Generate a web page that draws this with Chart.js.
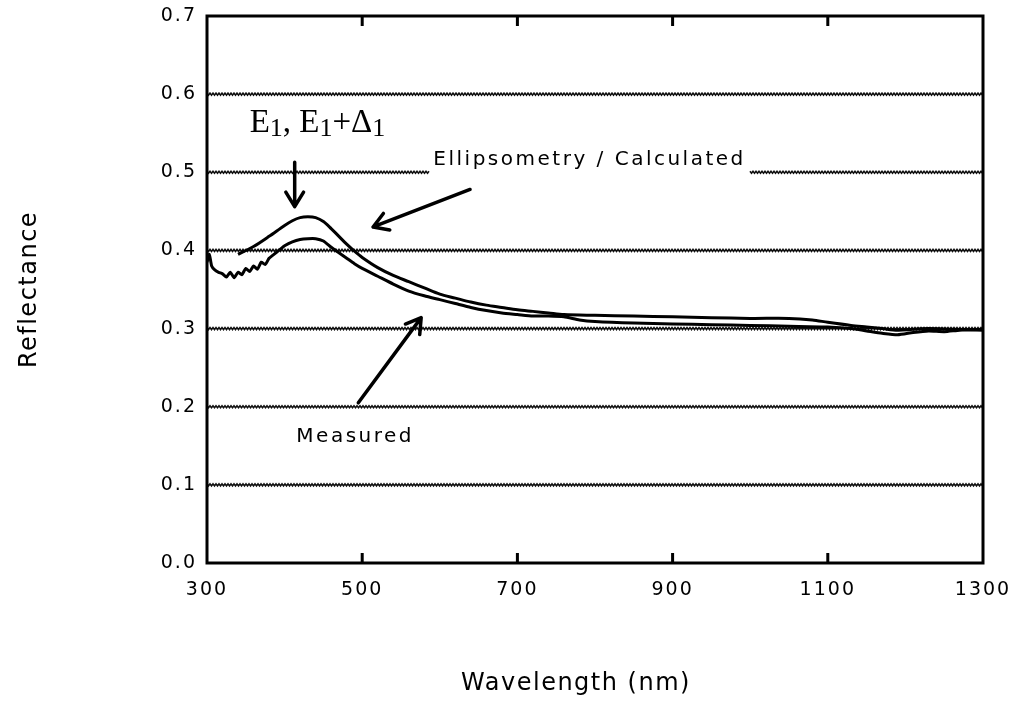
<!DOCTYPE html>
<html lang="en">
<head>
  <meta charset="UTF-8">
  <title>Reflectance</title>
  <style>
    body { margin: 0; background: #fff; }
  </style>
</head>
<body>
  <div>
    <canvas id="myChart" width="1017" height="704"></canvas>
  </div>

  <script src="https://cdn.jsdelivr.net/npm/chart.js"></script>

  <script>
    // measured spectrum (nm, reflectance)
    const measuredNm = [300, 303, 306, 310, 315, 320, 325, 330, 335, 340, 345, 350, 355, 360, 365, 370, 375, 380, 385, 390,
      395, 400, 410, 420, 430, 440, 450, 460, 470, 480, 490, 500, 520, 540, 560, 580, 600, 620, 640, 660,
      680, 700, 720, 740, 760, 780, 800, 850, 900, 950, 1000, 1050, 1100, 1130, 1150, 1170, 1190, 1210, 1230, 1250,
      1270, 1300]
    const measuredR = [0.385, 0.395, 0.38, 0.375, 0.372, 0.37, 0.366, 0.372, 0.365, 0.372, 0.369, 0.377, 0.373, 0.38, 0.376, 0.385, 0.382, 0.39, 0.394, 0.398,
      0.402, 0.406, 0.411, 0.414, 0.415, 0.415, 0.412, 0.404, 0.397, 0.39, 0.383, 0.377, 0.367, 0.357, 0.348, 0.342, 0.337, 0.332, 0.327, 0.323,
      0.320, 0.318, 0.316, 0.316, 0.315, 0.311, 0.309, 0.307, 0.306, 0.305, 0.304, 0.303, 0.302, 0.300, 0.297, 0.294, 0.292, 0.295, 0.297, 0.296,
      0.298, 0.299]

    // calculated from ellipsometry data
    const calcNm = [340, 360, 380, 400, 410, 420, 430, 440, 450, 460, 470, 480, 490, 500, 520, 540, 560, 580, 600, 620,
      640, 660, 680, 700, 720, 740, 760, 800, 850, 900, 950, 1000, 1050, 1080, 1100, 1130, 1150, 1170, 1190, 1210,
      1230, 1260, 1300]
    const calcR = [0.395, 0.405, 0.418, 0.432, 0.438, 0.442, 0.443, 0.442, 0.437, 0.428, 0.418, 0.408, 0.399, 0.391, 0.378, 0.368, 0.360, 0.352, 0.344, 0.339,
      0.334, 0.330, 0.327, 0.324, 0.322, 0.320, 0.318, 0.317, 0.316, 0.315, 0.314, 0.313, 0.313, 0.311, 0.308, 0.304, 0.302, 0.300, 0.298, 0.299,
      0.300, 0.299, 0.298]

    const xTicks = [300, 500, 700, 900, 1100, 1300]
    const yTicks = [0, 0.1, 0.2, 0.3, 0.4, 0.5, 0.6, 0.7]
    const gridValues = [0.1, 0.2, 0.3, 0.4, 0.5, 0.6]

    const labelFont = '"DejaVu Sans", sans-serif'

    function toPoints(xs, ys) {
      let pts = []
      for (let i = 0; i < xs.length; i++) {
        pts.push({ x: xs[i], y: ys[i] })
      }
      return pts
    }

    // wavy dotted gridline, skipping [gapFrom, gapTo] if given
    function wavyLine(ctx, x0, x1, y, gapFrom, gapTo) {
      ctx.beginPath()
      let pen = false
      let k = 0
      for (let x = x0; x <= x1; x += 1.5, k++) {
        if (gapFrom != null && x > gapFrom && x < gapTo) { pen = false; continue }
        let yy = y + (k % 2 ? 1 : -1)
        if (pen) ctx.lineTo(x, yy)
        else { ctx.moveTo(x, yy); pen = true }
      }
      ctx.stroke()
    }

    function arrow(ctx, x0, y0, x1, y1) {
      let a = Math.atan2(y1 - y0, x1 - x0)
      let h = 17
      ctx.beginPath()
      ctx.moveTo(x0, y0)
      ctx.lineTo(x1, y1)
      ctx.moveTo(x1 - h * Math.cos(a - 0.55), y1 - h * Math.sin(a - 0.55))
      ctx.lineTo(x1, y1)
      ctx.lineTo(x1 - h * Math.cos(a + 0.55), y1 - h * Math.sin(a + 0.55))
      ctx.stroke()
    }

    // keep the plot box fixed, labels may hang over the padding
    function noScalePadding(s) {
      s.paddingTop = 0
      s.paddingBottom = 0
      s.paddingLeft = 0
      s.paddingRight = 0
    }

    const decorations = {
      id: 'decorations',
      beforeDraw(chart) {
        chart.ctx.letterSpacing = '2px'
      },
      beforeDatasetsDraw(chart) {
        const ctx = chart.ctx
        const xs = chart.scales.x, ys = chart.scales.y
        const area = chart.chartArea

        ctx.save()
        ctx.font = '20px ' + labelFont
        ctx.letterSpacing = '2.5px'
        const note = 'Ellipsometry / Calculated'
        const noteX = xs.getPixelForValue(793)
        const noteW = ctx.measureText(note).width

        ctx.strokeStyle = '#111'
        ctx.lineWidth = 1.6
        gridValues.forEach(v => {
          const y = ys.getPixelForValue(v)
          if (v === 0.5) wavyLine(ctx, area.left, area.right, y, noteX - noteW / 2 - 4, noteX + noteW / 2 + 4)
          else wavyLine(ctx, area.left, area.right, y)
        })

        // inner tick marks top and bottom
        ctx.strokeStyle = '#000'
        ctx.lineWidth = 3
        ctx.beginPath()
        xTicks.slice(1, -1).forEach(v => {
          const x = xs.getPixelForValue(v)
          ctx.moveTo(x, area.bottom)
          ctx.lineTo(x, area.bottom - 10)
          ctx.moveTo(x, area.top)
          ctx.lineTo(x, area.top + 10)
        })
        ctx.stroke()
        ctx.restore()
      },
      afterDatasetsDraw(chart) {
        const ctx = chart.ctx
        const xs = chart.scales.x, ys = chart.scales.y
        const area = chart.chartArea
        const px = v => xs.getPixelForValue(v)
        const py = v => ys.getPixelForValue(v)

        ctx.save()
        // frame
        ctx.strokeStyle = '#000'
        ctx.lineWidth = 3
        ctx.strokeRect(area.left, area.top, area.right - area.left, area.bottom - area.top)

        // arrows
        ctx.lineWidth = 3.5
        ctx.lineCap = 'round'
        ctx.lineJoin = 'round'
        arrow(ctx, px(413), py(0.513), px(413), py(0.456))
        arrow(ctx, px(639), py(0.478), px(514), py(0.430))
        arrow(ctx, px(495), py(0.205), px(576), py(0.314))

        // labels
        ctx.fillStyle = '#000'
        ctx.font = '20px ' + labelFont
        ctx.letterSpacing = '2.5px'
        ctx.textAlign = 'center'
        ctx.textBaseline = 'middle'
        ctx.fillText('Ellipsometry / Calculated', px(793), py(0.516))
        ctx.fillText('Measured', px(491), py(0.161))

        // E1, E1+Δ1
        ctx.letterSpacing = '0px'
        ctx.textAlign = 'left'
        ctx.textBaseline = 'alphabetic'
        let x = px(355)
        const base = py(0.551)
        const parts = [['E', 0], ['1', 1], [', E', 0], ['1', 1], ['+\u0394', 0], ['1', 1]]
        parts.forEach(p => {
          ctx.font = p[1] ? '26px "Liberation Serif", serif' : '33px "Liberation Serif", serif'
          ctx.fillText(p[0], x, base + (p[1] ? 4 : 0))
          x += ctx.measureText(p[0]).width
        })

        // axis titles
        ctx.font = '24px ' + labelFont
        ctx.letterSpacing = '1.5px'
        ctx.textAlign = 'center'
        ctx.textBaseline = 'middle'
        ctx.fillText('Wavelength (nm)', 576, 684)
        ctx.translate(30, (area.top + area.bottom) / 2)
        ctx.rotate(-Math.PI / 2)
        ctx.fillText('Reflectance', 0, 0)
        ctx.restore()
      }
    }

    let data = {
      datasets: [{
        label: 'Measured',
        data: toPoints(measuredNm, measuredR),
        borderColor: '#000',
        borderWidth: 3,
        pointRadius: 0,
        tension: 0.2
      }, {
        label: 'Ellipsometry / Calculated',
        data: toPoints(calcNm, calcR),
        borderColor: '#000',
        borderWidth: 3,
        pointRadius: 0,
        tension: 0.3
      }]
    }

    const config = {
      type: 'line',
      data: data,
      plugins: [decorations],
      options: {
        responsive: false,
        animation: false,
        layout: { padding: { top: 16, right: 34, left: 0, bottom: 0 } },
        plugins: {
          legend: { display: false },
          tooltip: { enabled: false }
        },
        scales: {
          x: {
            type: 'linear',
            min: 300,
            max: 1300,
            afterFit: s => { s.height = 141; noScalePadding(s) },
            afterBuildTicks: s => { s.ticks = xTicks.map(v => ({ value: v })) },
            grid: { display: false, drawTicks: false },
            border: { display: false },
            ticks: {
              padding: 16,
              color: '#000',
              font: { family: labelFont, size: 19 },
              maxRotation: 0,
              callback: v => String(v)
            }
          },
          y: {
            min: 0,
            max: 0.7,
            afterFit: s => { s.width = 207; noScalePadding(s) },
            afterBuildTicks: s => { s.ticks = yTicks.map(v => ({ value: v })) },
            grid: { display: false, drawTicks: false },
            border: { display: false },
            ticks: {
              padding: 10,
              color: '#000',
              font: { family: labelFont, size: 19 },
              callback: v => v.toFixed(1)
            }
          }
        }
      }
    }

    const myChart = new Chart(document.getElementById('myChart'), config)
  </script>
</body>
</html>
